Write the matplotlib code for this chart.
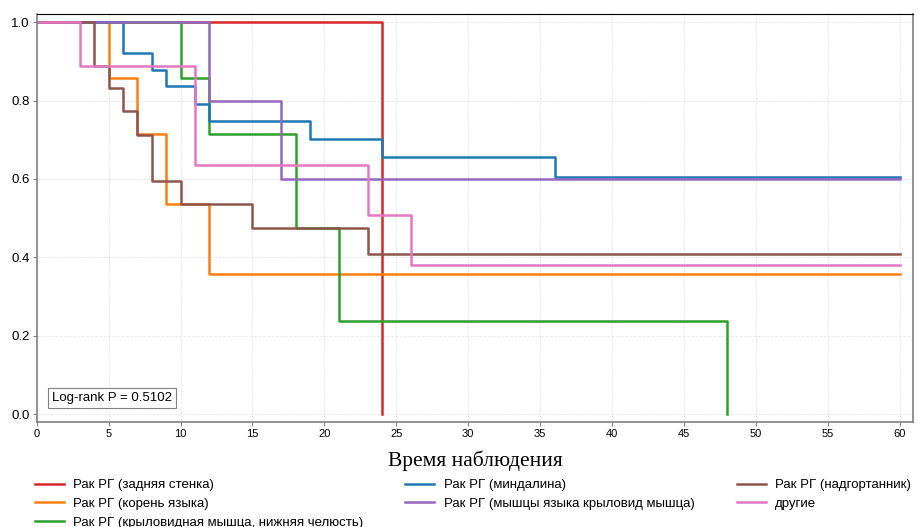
import numpy as np
import matplotlib.pyplot as plt

# Kaplan-Meier steps: event times and survival after each
labels = ["Рак РГ (задняя стенка)",
          "Рак РГ (корень языка)",
          "Рак РГ (крыловидная мышца, нижняя челюсть)",
          "Рак РГ (миндалина)",
          "Рак РГ (мышцы языка крыловид мышца)",
          "Рак РГ (надгортанник)",
          "другие"]
colors = ["#d62728", "#ff7f0e", "#2ca02c", "#1f77b4", "#9467bd", "#8c564b", "#e377c2"]

times = [
    [0, 24, 24],
    [0, 5, 7, 9, 12, 60],
    [0, 10, 12, 18, 21, 48, 48],
    [0, 6, 8, 9, 11, 12, 19, 24, 36, 60],
    [0, 12, 17, 60],
    [0, 4, 5, 6, 7, 8, 10, 15, 23, 60],
    [0, 3, 11, 23, 26, 60],
]
surv = [
    [1.0, 0.0, 0.0],
    [1.0, 0.857, 0.714, 0.536, 0.357, 0.357],
    [1.0, 0.857, 0.714, 0.476, 0.238, 0.0, 0.0],
    [1.0, 0.921, 0.878, 0.836, 0.792, 0.748, 0.702, 0.656, 0.604, 0.604],
    [1.0, 0.8, 0.6, 0.6],
    [1.0, 0.889, 0.833, 0.774, 0.713, 0.594, 0.536, 0.476, 0.408, 0.408],
    [1.0, 0.889, 0.635, 0.508, 0.381, 0.381],
]
p_value = 0.5102

plt.rcParams['font.family'] = ['Liberation Sans', 'DejaVu Sans']

fig = plt.figure(figsize=(9.18, 5.27), dpi=100)
ax = fig.add_axes([0.040, 0.199, 0.955, 0.774])

for t, s, c, lab in zip(times, surv, colors, labels):
    ax.step(t, s, where='post', color=c, lw=1.8, label=lab)

ax.set_xlim(0, 60.95)
ax.set_ylim(-0.02, 1.02)
ax.set_xticks(np.arange(0, 61, 5))
ax.set_yticks(np.arange(0, 1.01, 0.2))
ax.tick_params(length=3, color='#808080', pad=2)
ax.tick_params(axis='y', labelsize=9.5)
ax.tick_params(axis='x', labelsize=8)
ax.grid(ls='--', lw=0.6, color='#e6e6e6')
for side in ['left', 'bottom', 'right']:
    ax.spines[side].set_color('#808080')
    ax.spines[side].set_linewidth(1.2)
ax.spines['top'].set_color('black')

ax.text(0.017, 0.045, f"Log-rank P = {p_value}", transform=ax.transAxes,
        fontsize=9.5, ha='left', va='bottom',
        bbox=dict(boxstyle='square,pad=0.3', fc='white', ec='#808080', lw=0.8))

ax.set_xlabel("Время наблюдения", family='Liberation Serif', fontsize=15.5, labelpad=8)

fig.legend(loc='lower left', bbox_to_anchor=(0.025, -0.026), ncol=3, frameon=False,
           fontsize=9.5, handlelength=2.2, handletextpad=0.7,
           columnspacing=3.2, labelspacing=0.5)

fig.savefig("out.png", dpi=100)
